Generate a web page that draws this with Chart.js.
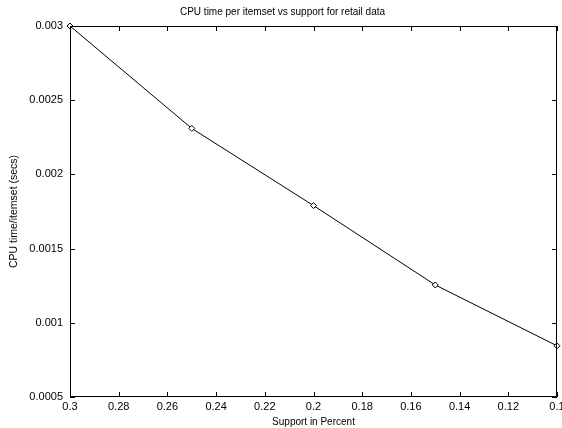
<!DOCTYPE html>
<html><head><meta charset="utf-8">
<script src="https://cdn.jsdelivr.net/npm/chart.js@4"></script>
<style>html,body{margin:0;padding:0;background:#fff}#wrap{width:562px;height:428px}</style>
</head><body><div id="wrap"><canvas id="c" width="562" height="428"></canvas></div>
<script>
const supportPct = [0.3, 0.25, 0.2, 0.15, 0.1];
const cpuPerItemset = [0.003, 0.00231, 0.00179, 0.001255, 0.000845];
const chartTitle = 'CPU time per itemset vs support for retail data';
const xTitle = 'Support in Percent';
const yTitle = 'CPU time/itemset (secs)';

const innerTicks = {
  id: 'innerTicks',
  afterDraw(chart) {
    const {ctx, chartArea: a, scales} = chart;
    ctx.save();
    ctx.strokeStyle = '#000';
    ctx.lineWidth = 1;
    ctx.beginPath();
    ctx.rect(a.left + 0.5, a.top + 0.5, a.right - a.left - 1, a.bottom - a.top - 1);
    const L = 5;
    scales.x.ticks.forEach(t => {
      const p = Math.round(scales.x.getPixelForValue(t.value)) + 0.5;
      ctx.moveTo(p, a.bottom); ctx.lineTo(p, a.bottom - L);
      ctx.moveTo(p, a.top); ctx.lineTo(p, a.top + L);
    });
    scales.y.ticks.forEach(t => {
      const p = Math.round(scales.y.getPixelForValue(t.value)) + 0.5;
      ctx.moveTo(a.left, p); ctx.lineTo(a.left + L, p);
      ctx.moveTo(a.right, p); ctx.lineTo(a.right - L, p);
    });
    ctx.stroke();
    ctx.restore();
  }
};

new Chart(document.getElementById('c'), {
  type: 'line',
  data: {
    datasets: [{
      data: supportPct.map((x, i) => ({x, y: cpuPerItemset[i]})),
      borderColor: '#000',
      borderWidth: 1,
      pointStyle: 'rectRot',
      pointRadius: 3,
      pointBackgroundColor: '#fff',
      pointBorderColor: '#000',
      pointBorderWidth: 1,
      tension: 0,
      clip: false
    }]
  },
  options: {
    responsive: false,
    animation: false,
    layout: {padding: {left: 0, right: -3, top: 0, bottom: 0}},
    plugins: {
      legend: {display: false},
      tooltip: {enabled: false},
      title: {
        display: true, text: chartTitle, color: '#000',
        font: {family: 'Liberation Sans', size: 10, weight: 'normal'},
        padding: {top: 6, bottom: 8}
      }
    },
    scales: {
      x: {
        type: 'linear', reverse: true, min: 0.1, max: 0.3,
        grid: {display: false, drawTicks: false},
        border: {display: false},
        ticks: {
          stepSize: 0.02, color: '#000', padding: 3,
          font: {family: 'Liberation Sans', size: 11},
          callback: v => String(+v.toFixed(2)),
          maxRotation: 0, autoSkip: false
        },
        title: {display: true, text: xTitle, color: '#000', padding: 0,
          font: {family: 'Liberation Sans', size: 10}},
        afterFit(s) { s.height = 31; s.paddingRight = 0; s.paddingLeft = 0; }
      },
      y: {
        type: 'linear', min: 0.0005, max: 0.003,
        grid: {display: false, drawTicks: false},
        border: {display: false},
        ticks: {
          stepSize: 0.0005, color: '#000', padding: 7,
          font: {family: 'Liberation Sans', size: 11},
          callback: v => String(+v.toFixed(4))
        },
        title: {display: true, text: yTitle, color: '#000', padding: {top: 8, bottom: 0},
          font: {family: 'Liberation Sans', size: 10.5}},
        afterFit(s) { s.width = 70; s.paddingTop = 0; s.paddingBottom = 0; }
      }
    }
  },
  plugins: [innerTicks]
});
</script></body></html>
